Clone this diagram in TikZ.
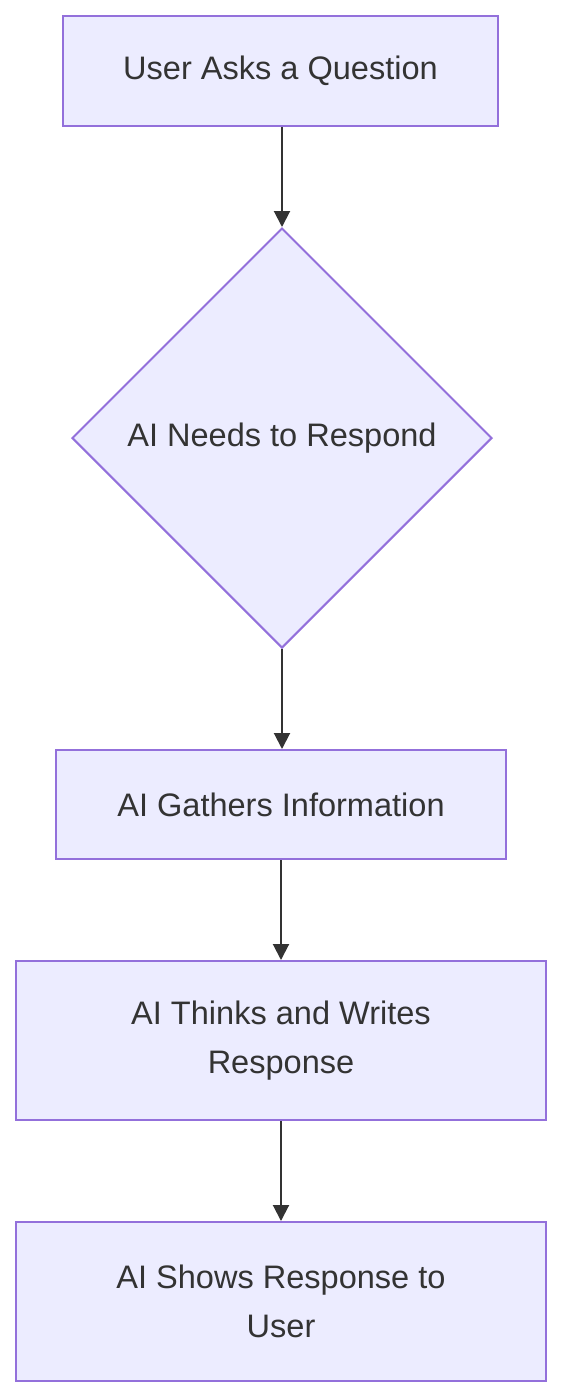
\documentclass[tikz,border=0pt]{standalone}
\usepackage{fontspec}
\setmainfont{Liberation Sans}
\usetikzlibrary{shapes.geometric,arrows.meta}
\definecolor{boxfill}{HTML}{ECECFF}
\definecolor{boxline}{HTML}{9370DB}
\definecolor{inkgrey}{HTML}{333333}
\begin{document}
\begin{tikzpicture}[x=0.75pt,y=0.75pt,yscale=-1,xscale=1,
	stepbox/.style={draw=boxline,fill=boxfill,line width=1.5pt,inner sep=0pt,text=inkgrey,align=center,font=\fontsize{24.4}{36.75}\selectfont},
	choice/.style={stepbox,diamond,aspect=1,minimum size=315pt},
	flow/.style={draw=inkgrey,line width=1.5pt,-{Triangle[length=12pt,width=12pt]}}]
	\useasboundingbox (0,0) rectangle (562,1397);
	
	% boxes
	\node (ask) [stepbox,minimum width=326.25pt,minimum height=82.5pt] at (280.5,71) {User Asks a Question};
	\node (need) [choice] at (282,438) {AI Needs to Respond};
	\node (gather) [stepbox,minimum width=337.5pt,minimum height=81.75pt] at (281,804.5) {AI Gathers Information};
	\node (think) [stepbox,minimum width=397.5pt,minimum height=119.25pt] at (281,1040.5) {AI Thinks and Writes\\Response};
	\node (show) [stepbox,minimum width=397.5pt,minimum height=119.25pt] at (281,1301.5) {AI Shows Response to\\User};
	
	% arrows
	\draw [flow] (ask.south -| need.north) -- (need.north);
	\draw [flow] (need.south) -- (need.south |- gather.north);
	\draw [flow] (gather) -- (think);
	\draw [flow] (think) -- (show);
\end{tikzpicture}
\end{document}
